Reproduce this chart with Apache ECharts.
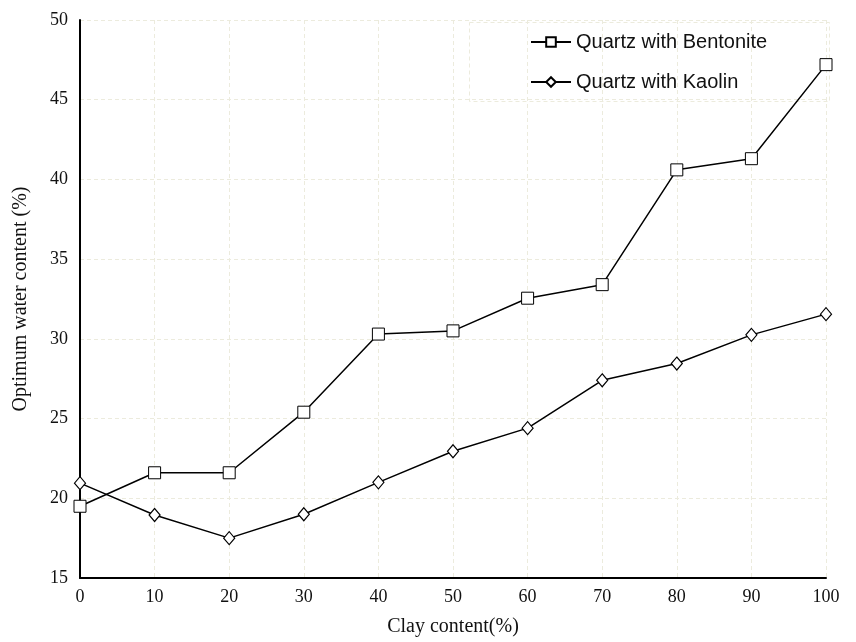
<!DOCTYPE html>
<html>
<head>
<meta charset="utf-8">
<script src="https://cdn.jsdelivr.net/npm/echarts@6/dist/echarts.min.js"></script>
<style>html,body{margin:0;padding:0;background:#fff}#c{width:856px;height:642px}</style>
</head>
<body>
<div id="c"></div>
<script>
var clayContent = [0, 10, 20, 30, 40, 50, 60, 70, 80, 90, 100];
var bentonite = [19.5, 21.6, 21.6, 25.4, 30.3, 30.5, 32.55, 33.4, 40.6, 41.3, 47.2];
var kaolin = [20.95, 18.95, 17.5, 19.0, 21.0, 22.95, 24.4, 27.4, 28.45, 30.25, 31.55];
var seriesNames = ['Quartz with Bentonite', 'Quartz with Kaolin'];
var xAxisTitle = 'Clay content(%)';
var yAxisTitle = 'Optimum water content (%)';

var chart = echarts.init(document.getElementById('c'));
var serif = '"Liberation Serif", "Times New Roman", serif';
var gridLine = {show: true, lineStyle: {color: '#ecebdd', type: [4, 3], width: 1}};
function pairs(v){ return clayContent.map(function(x, i){ return [x, v[i]]; }); }
chart.setOption({
  animation: false,
  backgroundColor: '#fff',
  grid: {left: 80, right: 30, top: 20, bottom: 59, containLabel: false},
  graphic: [{
    type: 'rect', left: 467, top: 20, z: 1,
    shape: {width: 360, height: 79},
    style: {fill: 'none', stroke: '#ecebdd', lineWidth: 1, lineDash: [4, 3]}
  }],
  legend: {
    data: seriesNames,
    orient: 'vertical',
    left: 530, top: 32, padding: 0,
    itemWidth: 40, itemHeight: 12, itemGap: 20,
    textStyle: {fontFamily: '"Liberation Sans", Arial, sans-serif', fontSize: 20, color: '#111', lineHeight: 20}
  },
  xAxis: {
    type: 'value', min: 0, max: 100, interval: 10,
    name: xAxisTitle, nameLocation: 'middle', nameGap: 39,
    nameTextStyle: {fontFamily: serif, fontSize: 20, color: '#111'},
    axisLine: {show: true, onZero: false, lineStyle: {color: '#000', width: 2}},
    axisTick: {show: false},
    axisLabel: {fontFamily: serif, fontSize: 18, color: '#111', margin: 10},
    splitLine: gridLine
  },
  yAxis: {
    type: 'value', min: 15, max: 50, interval: 5,
    name: yAxisTitle, nameLocation: 'middle', nameGap: 49,
    nameTextStyle: {fontFamily: serif, fontSize: 20, color: '#111'},
    axisLine: {show: true, onZero: false, lineStyle: {color: '#000', width: 2}},
    axisTick: {show: false},
    axisLabel: {fontFamily: serif, fontSize: 18, color: '#111', margin: 12},
    splitLine: gridLine
  },
  series: [{
    name: seriesNames[0], type: 'line', data: pairs(bentonite),
    symbol: 'rect', symbolSize: 12, showAllSymbol: true,
    lineStyle: {color: '#000', width: 1.5},
    itemStyle: {color: '#fff', borderColor: '#000', borderWidth: 1}
  }, {
    name: seriesNames[1], type: 'line', data: pairs(kaolin),
    symbol: 'diamond', symbolSize: [11, 13], showAllSymbol: true,
    lineStyle: {color: '#000', width: 1.5},
    itemStyle: {color: '#fff', borderColor: '#000', borderWidth: 1.2}
  }]
});
</script>
</body>
</html>
